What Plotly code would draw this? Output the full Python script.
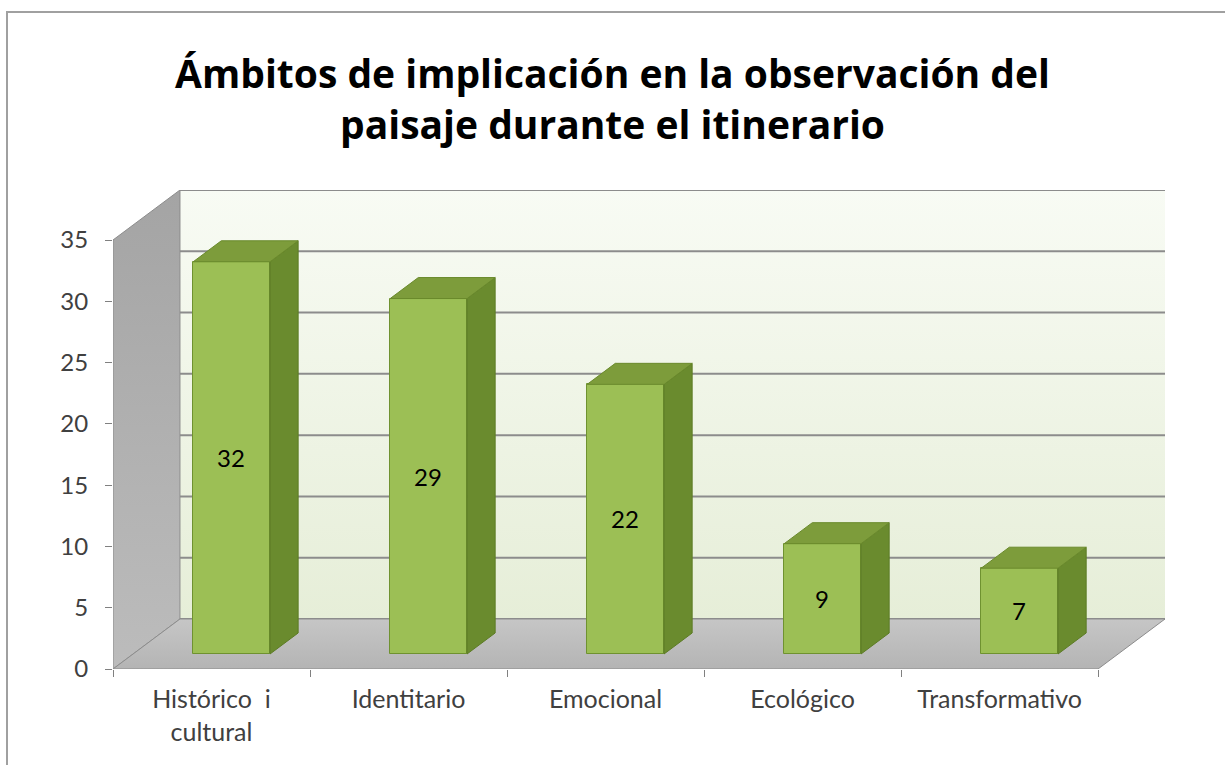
import plotly.graph_objects as go

# ---- data ----
categories = ["Histórico  i<br>cultural", "Identitario", "Emocional", "Ecológico", "Transformativo"]
values = [32, 29, 22, 9, 7]
y_ticks = [0, 5, 10, 15, 20, 25, 30, 35]
title_text = "Ámbitos de implicación en la observación del<br>paisaje durante el itinerario"

# ---- 3D look parameters (style / geometry) ----
YMAX = 35
DXU = 0.34      # depth offset in x data units
DYU = 4.08      # depth offset in y data units
BAR_W = 0.39
BAR_F = 0.30    # depth fraction of bar front face
BAR_D = 0.42    # depth fraction of bar thickness
FONT = "Lato"
TITLE_FONT = "Open Sans"

n = len(categories)
pos = list(range(n))
x0, x1 = -0.5, n - 0.5

fig = go.Figure()

def poly(xs, ys, fill, line_color, lw=1, grad=None, xa="x", ya="y"):
    kw = dict(x=xs + [xs[0]], y=ys + [ys[0]], mode="lines", fill="toself",
              line=dict(color=line_color, width=lw), hoverinfo="skip",
              showlegend=False, xaxis=xa, yaxis=ya)
    if grad is not None:
        kw["fillgradient"] = grad
    else:
        kw["fillcolor"] = fill
    fig.add_trace(go.Scatter(**kw))

# back wall
poly([x0 + DXU, x1 + DXU, x1 + DXU, x0 + DXU],
     [DYU, DYU, YMAX + DYU, YMAX + DYU], None, "rgba(0,0,0,0)", 0,
     grad=dict(type="vertical", colorscale=[[0, "#e6eed8"], [1, "#f8fbf4"]]))

# gridlines on back wall
gx, gy = [], []
for t in y_ticks:
    gx += [x0 + DXU, x1 + DXU, None]
    gy += [t + DYU, t + DYU, None]
fig.add_trace(go.Scatter(x=gx, y=gy, mode="lines", line=dict(color="#8c8c8c", width=2),
                         hoverinfo="skip", showlegend=False))

# side wall
poly([x0, x0, x0 + DXU, x0 + DXU], [0, YMAX, YMAX + DYU, DYU], None, "#8c8c8c", 1,
     grad=dict(type="vertical", colorscale=[[0, "#bcbcbc"], [1, "#a4a4a4"]]))

# floor
poly([x0, x1, x1 + DXU, x0 + DXU], [0, 0, DYU, DYU], None, "#8c8c8c", 1,
     grad=dict(type="vertical", colorscale=[[0, "#b4b4b4"], [1, "#c6c6c6"]]))

# ---- bars (overlay axes so they sit above the background) ----
base = BAR_F * DYU
ddx, ddy = BAR_D * DXU, BAR_D * DYU
xc = [p + BAR_F * DXU for p in pos]

fig.add_trace(go.Bar(x=xc, y=values, base=base, width=BAR_W,
                     marker=dict(color="#9cbf55", line=dict(color="#6f9230", width=1)),
                     text=[str(v) for v in values], textposition="inside",
                     insidetextanchor="middle",
                     textfont=dict(family=FONT, size=24, color="#000000"),
                     hoverinfo="skip", showlegend=False, xaxis="x2", yaxis="y2"))

for c, v in zip(xc, values):
    xl, xr = c - BAR_W / 2, c + BAR_W / 2
    top = v + base
    # side face
    poly([xr, xr, xr + ddx, xr + ddx], [base, top, top + ddy, base + ddy],
         "#6a8b2e", "#5c7b25", 1, xa="x2", ya="y2")
    # top face
    poly([xl, xr, xr + ddx, xl + ddx], [top, top, top + ddy, top + ddy],
         "#7d9c3b", "#6a8a2c", 1, xa="x2", ya="y2")

rng_x = [x0, x1 + DXU]
rng_y = [0, YMAX + DYU]

fig.update_layout(
    width=1225, height=765,
    margin=dict(l=113, r=60, t=190, b=96),
    paper_bgcolor="white", plot_bgcolor="rgba(0,0,0,0)",
    title=dict(text="<b>" + title_text + "</b>", x=0.5, xref="container", xanchor="center",
               y=1 - 88 / 765, yref="container", yanchor="top",
               font=dict(family=TITLE_FONT, size=39, color="#000000")),
    font=dict(family=FONT),
    xaxis=dict(range=rng_x, tickmode="array", tickvals=pos, ticktext=categories,
               ticks="", showgrid=False, zeroline=False, showline=False,
               tickfont=dict(family=FONT, size=25, color="#404040"),
               ticklabelstandoff=13,
               minor=dict(tickmode="array", tickvals=[p - 0.5 for p in pos] + [x1],
                          ticks="outside", ticklen=7, tickcolor="#808080", showgrid=False)),
    yaxis=dict(range=rng_y, tickmode="array", tickvals=y_ticks,
               ticks="outside", ticklen=7, tickcolor="#808080",
               showgrid=False, zeroline=False, showline=False,
               tickfont=dict(family=FONT, size=24, color="#404040"),
               ticklabelstandoff=12),
    xaxis2=dict(range=rng_x, overlaying="x", visible=False),
    yaxis2=dict(range=rng_y, overlaying="y", visible=False),
    bargap=0,
)

# chart border
fig.add_shape(type="rect", xref="paper", yref="paper",
              x0=(7 - 113) / 1052, x1=(1240 - 113) / 1052,
              y0=(669 - 780) / 479, y1=(669 - 12) / 479,
              line=dict(color="#a0a0a0", width=2), layer="below")

fig.write_html("out.html", config={"displayModeBar": False},
               post_script="document.body.style.margin='0px';")
